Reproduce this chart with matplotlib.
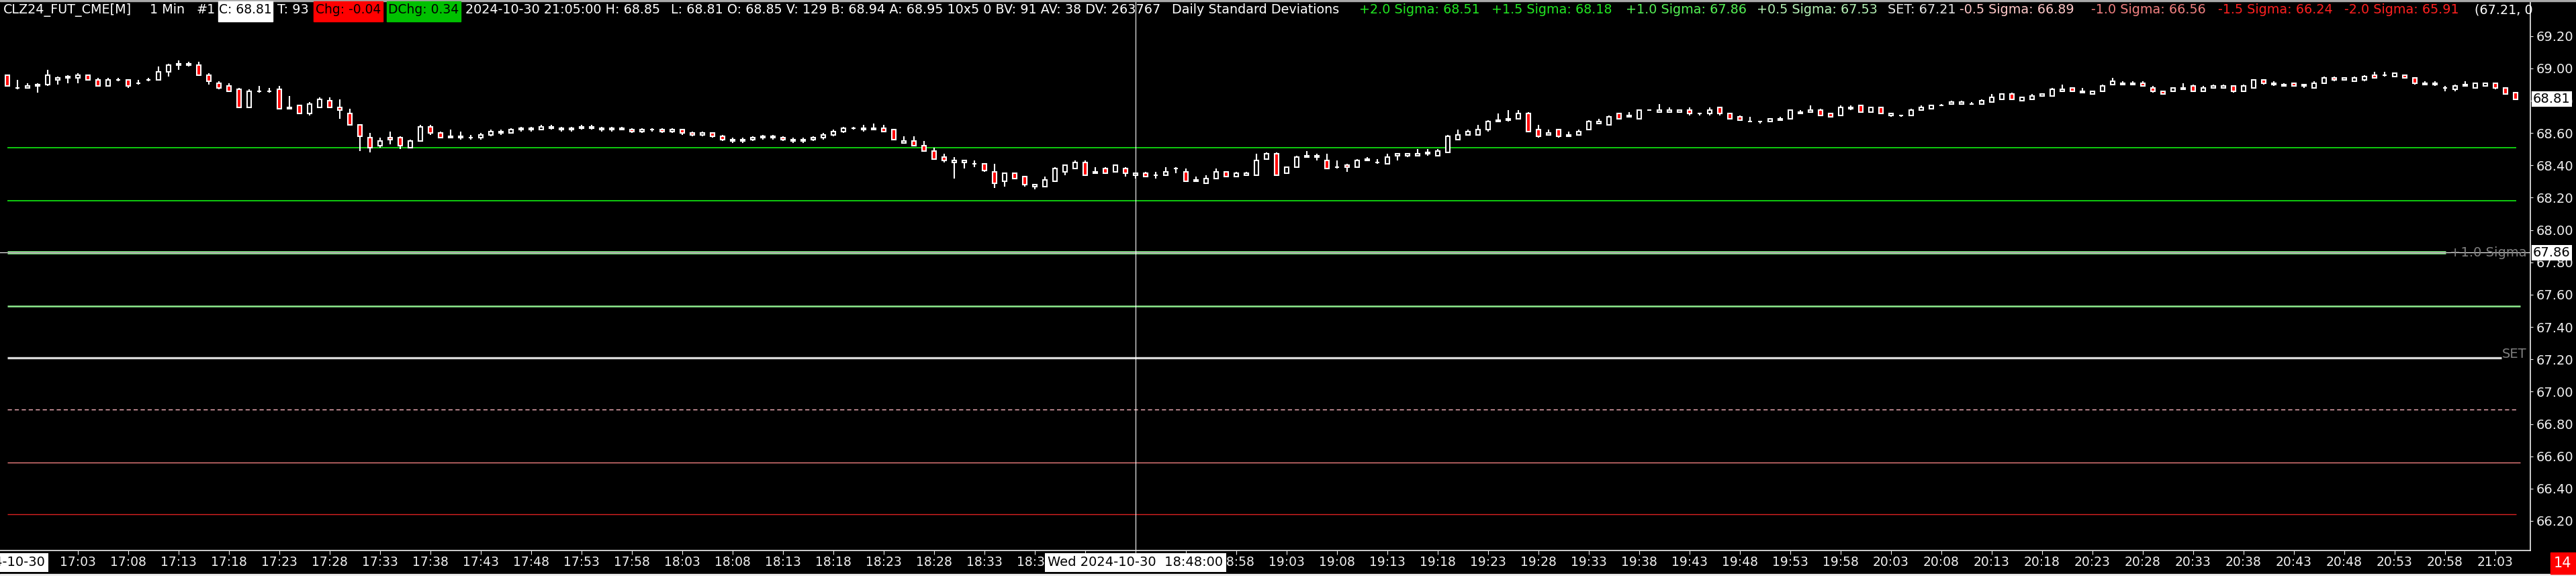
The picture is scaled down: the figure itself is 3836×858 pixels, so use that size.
#!/usr/bin/env python3

import matplotlib
matplotlib.use("Agg")
import matplotlib.pyplot as plt
import matplotlib.transforms as mtransforms
from matplotlib.patches import Rectangle
import numpy
import pandas

# 1 minute bars, CLZ24, 16:56 -> 21:05
bar_times = pandas.date_range("2024-10-30 16:56", periods=250, freq="min")

opens = [
    68.96, 68.88, 68.88, 68.90, 68.90, 68.93, 68.94, 68.94, 68.96, 68.93,
    68.89, 68.93, 68.93, 68.91, 68.93, 68.93, 68.98, 69.02, 69.03, 69.02,
    68.96, 68.91, 68.89, 68.87, 68.76, 68.86, 68.86, 68.87, 68.75, 68.77,
    68.72, 68.76, 68.80, 68.76, 68.72, 68.65, 68.57, 68.52, 68.57, 68.57,
    68.51, 68.55, 68.64, 68.60, 68.57, 68.58, 68.57, 68.57, 68.59, 68.61,
    68.60, 68.62, 68.63, 68.62, 68.64, 68.63, 68.62, 68.63, 68.64, 68.63,
    68.62, 68.63, 68.62, 68.61, 68.62, 68.62, 68.61, 68.62, 68.60, 68.59,
    68.60, 68.58, 68.56, 68.55, 68.56, 68.57, 68.58, 68.57, 68.56, 68.55,
    68.56, 68.57, 68.59, 68.61, 68.63, 68.63, 68.62, 68.63, 68.62, 68.54,
    68.55, 68.52, 68.49, 68.45, 68.42, 68.42, 68.41, 68.41, 68.36, 68.30,
    68.35, 68.33, 68.27, 68.27, 68.30, 68.36, 68.38, 68.42, 68.35, 68.38,
    68.36, 68.38, 68.34, 68.35, 68.34, 68.34, 68.38, 68.36, 68.30, 68.29,
    68.32, 68.36, 68.33, 68.34, 68.34, 68.44, 68.47, 68.35, 68.39, 68.45,
    68.45, 68.43, 68.39, 68.40, 68.39, 68.43, 68.42, 68.41, 68.46, 68.46,
    68.46, 68.47, 68.46, 68.48, 68.56, 68.59, 68.59, 68.62, 68.67, 68.68,
    68.69, 68.72, 68.62, 68.59, 68.62, 68.59, 68.59, 68.62, 68.66, 68.65,
    68.72, 68.70, 68.69, 68.74, 68.73, 68.73, 68.73, 68.74, 68.72, 68.72,
    68.76, 68.72, 68.70, 68.67, 68.67, 68.67, 68.68, 68.69, 68.72, 68.73,
    68.74, 68.72, 68.71, 68.75, 68.77, 68.73, 68.76, 68.71, 68.71, 68.71,
    68.74, 68.75, 68.77, 68.78, 68.78, 68.78, 68.78, 68.79, 68.81, 68.84,
    68.80, 68.81, 68.83, 68.83, 68.86, 68.88, 68.85, 68.84, 68.86, 68.90,
    68.90, 68.90, 68.91, 68.88, 68.86, 68.86, 68.87, 68.89, 68.86, 68.88,
    68.88, 68.89, 68.86, 68.88, 68.93, 68.91, 68.89, 68.91, 68.89, 68.88,
    68.91, 68.94, 68.93, 68.92, 68.93, 68.96, 68.96, 68.95, 68.96, 68.94,
    68.90, 68.91, 68.88, 68.87, 68.89, 68.88, 68.89, 68.91, 68.88, 68.85,
]
highs = [
    68.96, 68.93, 68.91, 68.91, 68.99, 68.95, 68.96, 68.97, 68.96, 68.94,
    68.94, 68.94, 68.93, 68.93, 68.94, 69.01, 69.03, 69.05, 69.04, 69.04,
    68.97, 68.92, 68.91, 68.88, 68.87, 68.89, 68.88, 68.89, 68.83, 68.77,
    68.79, 68.82, 68.82, 68.81, 68.75, 68.65, 68.60, 68.57, 68.61, 68.58,
    68.56, 68.65, 68.65, 68.61, 68.62, 68.61, 68.59, 68.60, 68.62, 68.62,
    68.63, 68.64, 68.64, 68.65, 68.65, 68.64, 68.64, 68.65, 68.65, 68.64,
    68.64, 68.64, 68.63, 68.63, 68.63, 68.63, 68.63, 68.62, 68.61, 68.61,
    68.60, 68.59, 68.57, 68.57, 68.58, 68.59, 68.59, 68.58, 68.57, 68.57,
    68.58, 68.60, 68.62, 68.64, 68.64, 68.65, 68.66, 68.65, 68.62, 68.58,
    68.58, 68.55, 68.51, 68.47, 68.45, 68.43, 68.43, 68.41, 68.41, 68.35,
    68.35, 68.33, 68.28, 68.33, 68.39, 68.40, 68.43, 68.43, 68.39, 68.39,
    68.40, 68.39, 68.35, 68.36, 68.36, 68.39, 68.39, 68.38, 68.33, 68.34,
    68.38, 68.36, 68.36, 68.36, 68.47, 68.48, 68.48, 68.39, 68.46, 68.49,
    68.47, 68.47, 68.43, 68.41, 68.44, 68.45, 68.44, 68.47, 68.47, 68.47,
    68.50, 68.50, 68.50, 68.59, 68.62, 68.62, 68.65, 68.68, 68.72, 68.74,
    68.74, 68.73, 68.65, 68.62, 68.62, 68.61, 68.62, 68.68, 68.69, 68.71,
    68.72, 68.73, 68.74, 68.74, 68.78, 68.76, 68.74, 68.76, 68.72, 68.76,
    68.76, 68.72, 68.71, 68.70, 68.67, 68.69, 68.70, 68.74, 68.74, 68.77,
    68.75, 68.72, 68.77, 68.77, 68.77, 68.76, 68.76, 68.72, 68.71, 68.75,
    68.77, 68.77, 68.78, 68.80, 68.80, 68.79, 68.81, 68.84, 68.84, 68.85,
    68.82, 68.84, 68.84, 68.88, 68.90, 68.88, 68.88, 68.86, 68.90, 68.94,
    68.92, 68.92, 68.92, 68.89, 68.86, 68.88, 68.91, 68.90, 68.89, 68.90,
    68.90, 68.89, 68.90, 68.93, 68.93, 68.92, 68.91, 68.91, 68.90, 68.92,
    68.95, 68.95, 68.94, 68.95, 68.96, 68.98, 68.98, 68.97, 68.96, 68.94,
    68.92, 68.92, 68.89, 68.90, 68.92, 68.91, 68.91, 68.91, 68.88, 68.85,
]
lows = [
    68.89, 68.87, 68.88, 68.85, 68.89, 68.90, 68.91, 68.91, 68.93, 68.89,
    68.89, 68.92, 68.88, 68.90, 68.92, 68.93, 68.95, 68.99, 69.01, 68.96,
    68.90, 68.87, 68.86, 68.76, 68.76, 68.85, 68.85, 68.75, 68.75, 68.72,
    68.71, 68.76, 68.76, 68.69, 68.65, 68.49, 68.48, 68.51, 68.53, 68.50,
    68.51, 68.55, 68.59, 68.57, 68.57, 68.56, 68.56, 68.56, 68.58, 68.59,
    68.60, 68.61, 68.61, 68.62, 68.62, 68.61, 68.61, 68.62, 68.62, 68.61,
    68.61, 68.62, 68.60, 68.60, 68.61, 68.60, 68.60, 68.59, 68.58, 68.58,
    68.57, 68.55, 68.54, 68.54, 68.55, 68.56, 68.56, 68.55, 68.54, 68.54,
    68.55, 68.56, 68.58, 68.60, 68.62, 68.61, 68.62, 68.61, 68.56, 68.54,
    68.52, 68.49, 68.44, 68.42, 68.32, 68.38, 68.39, 68.36, 68.26, 68.27,
    68.32, 68.27, 68.25, 68.27, 68.30, 68.34, 68.38, 68.34, 68.35, 68.35,
    68.36, 68.33, 68.32, 68.33, 68.32, 68.34, 68.35, 68.30, 68.30, 68.29,
    68.32, 68.33, 68.33, 68.34, 68.34, 68.44, 68.34, 68.35, 68.39, 68.45,
    68.43, 68.38, 68.38, 68.36, 68.39, 68.43, 68.41, 68.41, 68.43, 68.45,
    68.46, 68.46, 68.46, 68.48, 68.56, 68.59, 68.59, 68.61, 68.67, 68.67,
    68.69, 68.61, 68.57, 68.59, 68.57, 68.58, 68.59, 68.62, 68.66, 68.65,
    68.69, 68.70, 68.69, 68.74, 68.73, 68.73, 68.73, 68.71, 68.71, 68.71,
    68.71, 68.69, 68.68, 68.67, 68.66, 68.67, 68.68, 68.69, 68.72, 68.73,
    68.71, 68.70, 68.71, 68.74, 68.73, 68.73, 68.72, 68.70, 68.70, 68.71,
    68.74, 68.75, 68.77, 68.78, 68.78, 68.78, 68.78, 68.79, 68.81, 68.81,
    68.80, 68.81, 68.83, 68.83, 68.86, 68.86, 68.85, 68.84, 68.86, 68.90,
    68.90, 68.90, 68.89, 68.85, 68.84, 68.86, 68.87, 68.86, 68.86, 68.88,
    68.88, 68.85, 68.86, 68.88, 68.90, 68.89, 68.89, 68.89, 68.88, 68.88,
    68.91, 68.92, 68.93, 68.92, 68.92, 68.94, 68.95, 68.95, 68.94, 68.90,
    68.90, 68.89, 68.86, 68.86, 68.89, 68.88, 68.89, 68.87, 68.84, 68.81,
]
closes = [
    68.89, 68.88, 68.89, 68.89, 68.96, 68.94, 68.95, 68.96, 68.93, 68.89,
    68.93, 68.93, 68.89, 68.91, 68.93, 68.98, 69.02, 69.03, 69.02, 68.96,
    68.92, 68.88, 68.86, 68.76, 68.86, 68.86, 68.86, 68.75, 68.76, 68.72,
    68.78, 68.81, 68.76, 68.74, 68.65, 68.58, 68.51, 68.55, 68.56, 68.52,
    68.55, 68.64, 68.60, 68.57, 68.58, 68.57, 68.57, 68.59, 68.61, 68.60,
    68.62, 68.63, 68.62, 68.64, 68.63, 68.62, 68.63, 68.64, 68.63, 68.62,
    68.63, 68.62, 68.61, 68.62, 68.62, 68.61, 68.62, 68.60, 68.59, 68.60,
    68.58, 68.56, 68.55, 68.56, 68.57, 68.58, 68.57, 68.56, 68.55, 68.56,
    68.57, 68.59, 68.61, 68.63, 68.63, 68.62, 68.63, 68.61, 68.56, 68.55,
    68.52, 68.49, 68.44, 68.43, 68.43, 68.43, 68.41, 68.37, 68.29, 68.35,
    68.32, 68.28, 68.28, 68.31, 68.38, 68.40, 68.42, 68.34, 68.36, 68.35,
    68.40, 68.35, 68.35, 68.33, 68.34, 68.36, 68.38, 68.30, 68.31, 68.32,
    68.36, 68.33, 68.35, 68.35, 68.43, 68.47, 68.34, 68.39, 68.45, 68.46,
    68.46, 68.38, 68.39, 68.39, 68.43, 68.44, 68.42, 68.45, 68.47, 68.47,
    68.47, 68.48, 68.49, 68.58, 68.59, 68.61, 68.62, 68.67, 68.68, 68.69,
    68.72, 68.61, 68.58, 68.60, 68.58, 68.58, 68.61, 68.67, 68.67, 68.70,
    68.69, 68.71, 68.74, 68.74, 68.74, 68.74, 68.74, 68.72, 68.72, 68.74,
    68.72, 68.69, 68.68, 68.67, 68.67, 68.69, 68.69, 68.74, 68.73, 68.74,
    68.71, 68.70, 68.76, 68.76, 68.73, 68.76, 68.72, 68.72, 68.71, 68.74,
    68.76, 68.77, 68.77, 68.79, 68.79, 68.78, 68.80, 68.82, 68.84, 68.81,
    68.82, 68.83, 68.84, 68.87, 68.87, 68.86, 68.86, 68.86, 68.89, 68.92,
    68.91, 68.91, 68.89, 68.86, 68.84, 68.88, 68.88, 68.86, 68.88, 68.89,
    68.89, 68.86, 68.89, 68.93, 68.91, 68.90, 68.90, 68.89, 68.90, 68.91,
    68.94, 68.93, 68.94, 68.94, 68.95, 68.94, 68.96, 68.97, 68.94, 68.91,
    68.91, 68.90, 68.88, 68.89, 68.90, 68.91, 68.91, 68.88, 68.84, 68.81,
]

# daily standard deviation levels
sigma_names = ["+2.0 Sigma", "+1.5 Sigma", "+1.0 Sigma", "+0.5 Sigma", "SET",
               "-0.5 Sigma", "-1.0 Sigma", "-1.5 Sigma", "-2.0 Sigma"]
sigma_values = [68.51, 68.18, 67.86, 67.53, 67.21, 66.89, 66.56, 66.24, 65.91]
sigma_text_colors = ["#22e622", "#22e622", "#55f055", "#b4f0b4", "#e6e6e6",
                     "#ffc8c8", "#f08080", "#ff2020", "#ff2020"]
sigma_line_colors = ["#11ee11", "#11ee11", "#90ee90", "#90ee90", "#d8d8d8",
                     "#ffb6c1", "#f08080", "#dd2222", "#ff0000"]
sigma_widths = [1.2, 1.2, 3.3, 1.8, 2.4, 1.0, 1.0, 1.0, 1.0]
sigma_styles = ["-", "-", "-", "-", "-", (0, (4.5, 3)), "-", "-", "-"]
sigma_ends = [249.1, 249.1, 242.1, 249.5, 247.6, 249.3, 249.5, 249.1, 249.1]

cross_bar = 112
cross_price = 67.86
last_price = 68.81

W, H = 3837, 858
o = numpy.array(opens)
h = numpy.array(highs)
l = numpy.array(lows)
c = numpy.array(closes)
x = numpy.arange(len(o))

fig = plt.figure(figsize=(W / 100, H / 100), dpi=100, facecolor="black")
ax = fig.add_axes([0, 38 / H, 3768 / W, 818 / H], facecolor="black")
ax.set_xlim(-11 / 15, (3768 - 11) / 15)
ax.set_ylim(66.017, 69.415)

# crosshair
ax.axhline(cross_price, color="white", lw=0.8, zorder=1)
ax.axvline(cross_bar, color="white", lw=0.8, zorder=6)

for i, v in enumerate(sigma_values):
    ax.hlines(v, 0, sigma_ends[i], colors=sigma_line_colors[i], linewidth=sigma_widths[i],
              linestyles=sigma_styles[i], zorder=2)
ax.hlines(cross_price, 0, sigma_ends[2], colors="#c070c0", linewidth=0.7, zorder=2.5)

# candles
ax.vlines(x, l, h, colors="white", linewidth=1.5, zorder=3)
fill = numpy.where(c < o, "#ff0000", "black")
ax.bar(x, c - o, bottom=o, width=0.42, color=fill, edgecolor="white", linewidth=1.5, zorder=4)

for s in ["top", "left"]:
    ax.spines[s].set_visible(False)
for s in ["right", "bottom"]:
    ax.spines[s].set_color("#f0f0f0")
    ax.spines[s].set_linewidth(1.2)

ax.yaxis.tick_right()
yt = numpy.arange(66.2, 69.21, 0.2)
ax.set_yticks(yt)
ax.set_yticklabels([f"{v:.2f}" for v in yt])
ax.tick_params(axis="y", colors="#f0f0f0", labelsize=14, length=3, pad=3)
ax.set_xticks(x[7::5])
ax.set_xticklabels(bar_times[7::5].strftime("%H:%M"))
ax.tick_params(axis="x", colors="#f0f0f0", labelsize=13.5, length=4, pad=2)

tr = mtransforms.blended_transform_factory(ax.transAxes, ax.transData)
ax.text(0.9985, cross_price, "+1.0 Sigma", color="#808080", ha="right", va="center",
        fontsize=14, transform=tr, zorder=7)
ax.text(0.9985, sigma_values[4] + 0.02, "SET", color="#808080", ha="right", va="center",
        fontsize=14, transform=tr, zorder=7)
for p in [last_price, cross_price]:
    ax.text(1 + 4 / 3768, p, f"{p:.2f}", color="black", ha="left", va="center", fontsize=14,
            transform=tr, clip_on=False, zorder=10,
            bbox=dict(facecolor="white", edgecolor="none", boxstyle="square,pad=0.12"))

tb = mtransforms.blended_transform_factory(ax.transData, ax.transAxes)
ax.text(cross_bar, -0.022, bar_times[cross_bar].strftime("%a %Y-%m-%d  %H:%M:%S"),
        color="black", ha="center", va="center", fontsize=14, transform=tb, clip_on=False,
        zorder=10, bbox=dict(facecolor="white", edgecolor="none", boxstyle="square,pad=0.25"))
ax.text(0, -0.022, bar_times[0].strftime("%Y-%m-%d"), color="black", ha="center", va="center",
        fontsize=14, transform=tb, clip_on=False, zorder=10,
        bbox=dict(facecolor="white", edgecolor="none", boxstyle="square,pad=0.25"))

# header line, pixel coordinates
hd = fig.add_axes([0, 0, 1, 1])
hd.set_xlim(0, W)
hd.set_ylim(H, 0)
hd.axis("off")
hd.add_patch(Rectangle((0, 0), W, 1.5, color="#a8a8a8"))
hd.add_patch(Rectangle((0, 855), W, 3, color="#f0f0f0"))
hd.add_patch(Rectangle((3798, 823), 37, 32, color="#ff0000"))
hd.text(3816, 839, "14", color="white", ha="center", va="center", fontsize=15)

boxes = [("C: 68.81", 325, 81, "white"), ("Chg: -0.04", 467, 103, "#ff0000"),
         ("DChg: 0.34", 576, 110, "#00c000")]
for txt, bx, bw, col in boxes:
    hd.add_patch(Rectangle((bx, 1.5), bw, 30, color=col))
    hd.text(bx + bw / 2, 15, txt, color="black", ha="center", va="center", fontsize=13.5)

plain = [("CLZ24_FUT_CME[M]", 5), ("1 Min", 223), ("#1", 293), ("T: 93", 413),
         ("2024-10-30 21:05:00 H: 68.85", 693),
         ("L: 68.81 O: 68.85 V: 129 B: 68.94 A: 68.95 10x5 0 BV: 91 AV: 38 DV: 263767", 999),
         ("Daily Standard Deviations", 1745), ("(67.21, 0", 3685)]
for txt, tx in plain:
    hd.text(tx, 15, txt, color="white", ha="left", va="center", fontsize=13.8)

sigma_x = [2024, 2221, 2421, 2616, 2811, 2918, 3114, 3303, 3491]
for i, name in enumerate(sigma_names):
    hd.text(sigma_x[i], 15, f"{name}: {sigma_values[i]:.2f}", color=sigma_text_colors[i],
            ha="left", va="center", fontsize=13.8)

plt.savefig("out.png", dpi=100, facecolor="black")
